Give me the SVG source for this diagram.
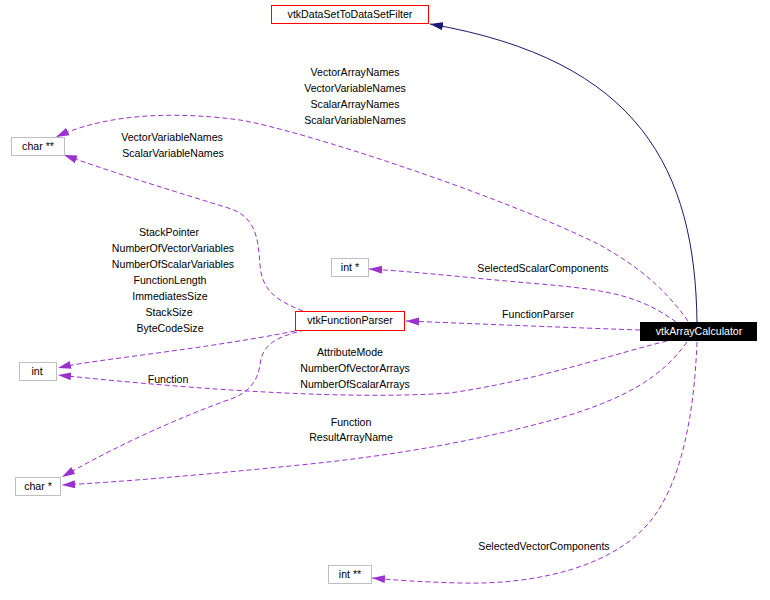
<svg xmlns="http://www.w3.org/2000/svg" width="770" height="600" viewBox="0 0 770 600">
<style>
text{font-family:"Liberation Sans",Arial,sans-serif;font-size:10.6px;fill:#000;text-anchor:middle}
.box{fill:#fff;stroke-width:1}
.red{stroke:#ff0000}
.gray{stroke:#bfbfbf}
.use{fill:none;stroke:#9a32cd;stroke-width:1;stroke-dasharray:5,3}
.inh{fill:none;stroke:#191970;stroke-width:1}
</style>
<defs>
<marker id="ap" markerUnits="userSpaceOnUse" markerWidth="14" markerHeight="9" refX="13" refY="4" orient="auto" viewBox="0 0 14 8">
<path d="M0,0 L13,4 L0,8 z" fill="#9a32cd"/>
</marker>
<marker id="ab" markerUnits="userSpaceOnUse" markerWidth="14" markerHeight="9" refX="13" refY="4" orient="auto" viewBox="0 0 14 8">
<path d="M0,0 L13,4 L0,8 z" fill="#191970"/>
</marker>
</defs>
<rect width="770" height="600" fill="#fff"/>
<g id="connectors">
<path class="inh" marker-end="url(#ab)" d="M697,322 C695,170 640,60 430,24"/>
<path class="use" marker-end="url(#ap)" d="M688,321 C660,282 630,262 600,245 C500,195 300,130 240,120 C180,112 110,112 56,137"/>
<path class="use" marker-end="url(#ap)" d="M303,311 C275,300 262,290 260,265 C258,235 255,215 225,207 C180,193 120,175 64,155"/>
<path class="use" marker-end="url(#ap)" d="M676,322 C640,296 610,290 540,284 C470,278 420,272 369,269"/>
<path class="use" marker-end="url(#ap)" d="M640,330 C580,328 480,324 406,321"/>
<path class="use" marker-end="url(#ap)" d="M295,331 C240,342 180,350 120,358 C90,362 70,365 58,368"/>
<path class="use" marker-end="url(#ap)" d="M667,341 C620,352 540,380 450,393 C350,400 200,390 58,375"/>
<path class="use" marker-end="url(#ap)" d="M305,330 C270,338 262,348 260,365 C257,385 245,395 225,401 C160,425 100,455 62,477"/>
<path class="use" marker-end="url(#ap)" d="M687,342 C660,380 620,400 560,418 C480,440 400,455 300,465 C200,475 120,482 62,485"/>
<path class="use" marker-end="url(#ap)" d="M697,342 C694,420 680,480 655,515 C620,565 540,585 460,583 C420,582 395,580 372,578"/>
<text x="355" y="76">VectorArrayNames</text>
<text x="355" y="92">VectorVariableNames</text>
<text x="355" y="108">ScalarArrayNames</text>
<text x="355" y="124">ScalarVariableNames</text>
<text x="172" y="141">VectorVariableNames</text>
<text x="173" y="157">ScalarVariableNames</text>
<text x="169" y="236">StackPointer</text>
<text x="173" y="252">NumberOfVectorVariables</text>
<text x="173" y="268">NumberOfScalarVariables</text>
<text x="170" y="284">FunctionLength</text>
<text x="170" y="300">ImmediatesSize</text>
<text x="169" y="316">StackSize</text>
<text x="170" y="332">ByteCodeSize</text>
<text x="543" y="272">SelectedScalarComponents</text>
<text x="538" y="318">FunctionParser</text>
<text x="350" y="356">AttributeMode</text>
<text x="355" y="372">NumberOfVectorArrays</text>
<text x="355" y="388">NumberOfScalarArrays</text>
<text x="168" y="383">Function</text>
<text x="351" y="426">Function</text>
<text x="351" y="441">ResultArrayName</text>
<text x="544" y="550">SelectedVectorComponents</text>
</g>
<g id="vtkArrayCalculator">
<rect x="640" y="322" width="117" height="19" fill="#000"/>
<text x="699" y="335" style="fill:#fff">vtkArrayCalculator</text>
</g>
<g id="vtkDataSetToDataSetFilter">
<rect class="box red" x="271.5" y="5.5" width="157" height="18"/>
<text x="350" y="18">vtkDataSetToDataSetFilter</text>
</g>
<g id="char2">
<rect class="box gray" x="11.5" y="137.5" width="53" height="18"/>
<text x="38" y="150">char **</text>
</g>
<g id="intptr">
<rect class="box gray" x="331.5" y="258.5" width="37" height="18"/>
<text x="350" y="271">int *</text>
</g>
<g id="vtkFunctionParser">
<rect class="box red" x="295.5" y="311.5" width="109" height="19"/>
<text x="350" y="324">vtkFunctionParser</text>
</g>
<g id="int">
<rect class="box gray" x="19.5" y="362.5" width="37" height="18"/>
<text x="37" y="375">int</text>
</g>
<g id="char1">
<rect class="box gray" x="15.5" y="477.5" width="45" height="18"/>
<text x="38" y="490">char *</text>
</g>
<g id="int2">
<rect class="box gray" x="328.5" y="565.5" width="43" height="18"/>
<text x="350" y="578">int **</text>
</g>
</svg>
